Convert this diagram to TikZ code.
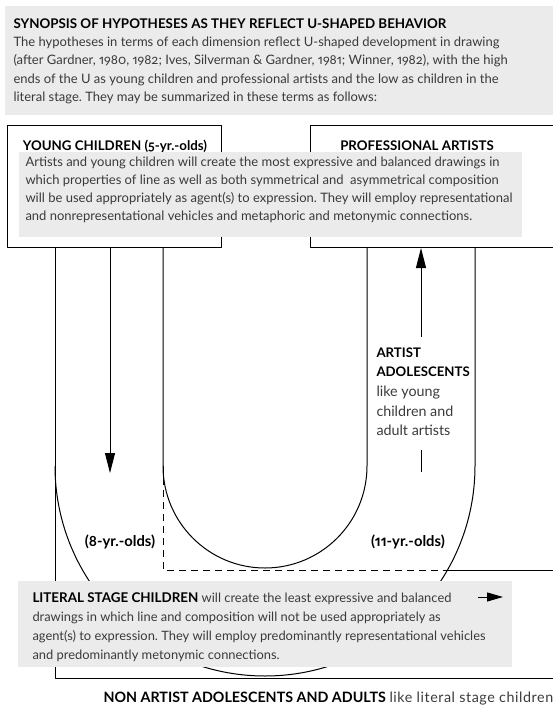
\documentclass[tikz,border=0pt]{standalone}
\usepackage{fontspec}
\setmainfont{Lato}[Numbers={OldStyle,Proportional}]
\usetikzlibrary{positioning,arrows.meta}
\definecolor{boxgray}{HTML}{EAEBEA}
\definecolor{bodygray}{HTML}{3A3A3A}
\newcommand{\hd}[1]{\textcolor{black}{\bfseries #1}}
\frenchspacing

\begin{document}
\begin{tikzpicture}[x=1pt, y=-1pt, line join=round, line width=1pt,
		>={Triangle[length=20pt,width=10pt]},
		font=\fontsize{13}{18.3}\selectfont,
		every node/.style={inner sep=0pt},
		body/.style={text=bodygray, align=left, anchor=north west},
		agebox/.style={draw, fill=white, anchor=north west, minimum height=122},
		agelbl/.style={font=\fontsize{13.3}{15}\selectfont\bfseries, anchor=base}]
		\def\cx{265} \def\cy{466}
		\def\ro{210} \def\ri{102}
		\useasboundingbox (0,0) rectangle (553,705);
		% synopsis
		\fill[boxgray] (5,6) rectangle (560,115);
		\node[body] (syn) at (13,18) {{\fontsize{13.35}{18.3}\selectfont\hd{SYNOPSIS OF HYPOTHESES AS THEY REFLECT U-SHAPED BEHAVIOR}}\\
			The hypotheses in terms of each dimension reflect U-shaped development in drawing\\
			(after Gardner, 1980, 1982; Ives, Silverman \& Gardner, 1981; Winner, 1982), with the high\\
			ends of the U as young children and professional artists and the low as children in the\\
			literal stage. They may be summarized in these terms as follows:};
		% high ends
		\node[agebox, minimum width=214] (yc) at (7,125) {};
		\node[agebox, minimum width=260] (pa) at (310,125) {};
		\node[agelbl] (yct) at (115,150) {YOUNG CHILDREN (5-yr.-olds)};
		\node[agelbl] (pat) at (417,150) {PROFESSIONAL ARTISTS};
		\fill[boxgray] (19,152) rectangle (522,237);
		\node[body] (high) at (25,156) {Artists and young children will create the most expressive and balanced drawings in\\
			which properties of line as well as both symmetrical and\ \ asymmetrical composition\\
			will be used appropriately as agent(s) to expression. They will employ representational\\
			and nonrepresentational vehicles and metaphoric and metonymic connections.};
		% the U
		\draw (55,247)--(55,678)--(560,678);
		\draw (55,\cy) arc (180:0:\ro) -- (475,247);
		\draw (163,247)--(163,\cy) arc (180:0:\ri) -- (367,247);
		\draw[dashed, dash pattern=on 7pt off 5pt] (163,\cy)--(163,570)--(447.4,570);
		\draw (447.4,570)--(560,570);
		\coordinate (dn) at (110,473);
		\draw[->] (yc.south -| dn) -- (dn);
		\node[body, font=\fontsize{14.3}{19.7}\selectfont] (aa) at (376,347) {{\fontsize{13.2}{19.7}\selectfont\hd{ARTIST}}\\ {\fontsize{13.2}{19.7}\selectfont\hd{ADOLESCENTS}}\\ like young\\ children and\\ adult artists};
		\coordinate (up) at (421,337);
		\coordinate (upb) at (421,450);
		\coordinate (upe) at (421,472);
		\draw[->] (up) -- (pa.south -| up);
		\draw (upb) -- (upe);
		\node[agelbl, font=\fontsize{14.8}{15}\selectfont\bfseries] (eight) at (120,546) {(8-yr.-olds)};
		\node[agelbl, font=\fontsize{14.8}{15}\selectfont\bfseries] (eleven) at (408,546) {(11-yr.-olds)};
		% low point
		\fill[boxgray] (18,581) rectangle (512,667);
		\node[body, font=\fontsize{12.9}{19}\selectfont] (low) at (32,592) {{\fontsize{13.4}{19}\selectfont\hd{LITERAL STAGE CHILDREN}} will create the least expressive and balanced\\
			drawings in which line and composition will not be used appropriately as\\
			agent(s) to expression. They will employ predominantly representational vehicles\\
			and predominantly metonymic connections.};
		\coordinate (ls1) at (478,597);
		\coordinate (ls2) at (503,597);
		\draw[-{Triangle[length=16pt,width=9pt]}] (ls1) -- (ls2);
		\node[anchor=base west, text=bodygray, font=\fontsize{14.3}{18}\selectfont] (adult) at (103,702) {\hd{NON ARTIST ADOLESCENTS AND ADULTS} {\addfontfeatures{LetterSpace=4}like literal stage children}};
	\end{tikzpicture}
\end{document}
